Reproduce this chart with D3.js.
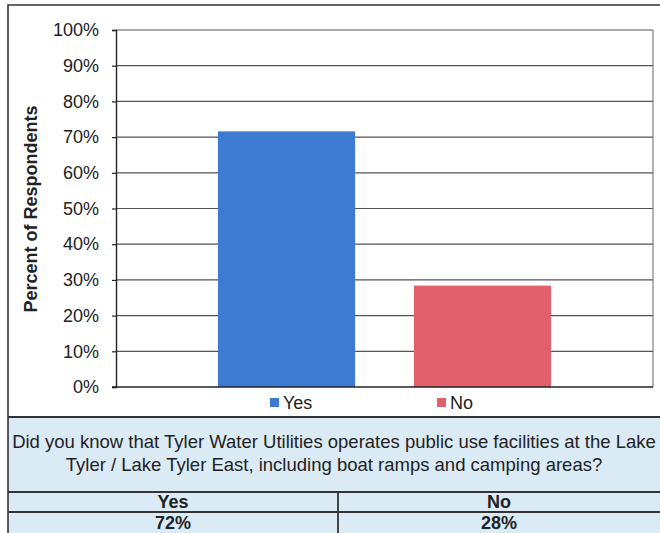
<!DOCTYPE html>
<html><head><meta charset="utf-8">
<script src="https://cdn.jsdelivr.net/npm/d3@7"></script>
<style>
body{margin:0;background:#fff;}
svg{display:block;font-family:"Liberation Sans",Arial,sans-serif;}
</style></head>
<body><svg id="c" width="660" height="533"></svg>
<script>
const categories = [""];
const series = ["Yes", "No"];
const values = [71.6, 28.4];
const tableLabels = ["72%", "28%"];
const yTicks = [0,10,20,30,40,50,60,70,80,90,100];
const question = ["Did you know that Tyler Water Utilities operates public use facilities at the Lake",
                  "Tyler / Lake Tyler East, including boat ramps and camping areas?"];
const colors = ["#3d7bd2", "#e2606b"];

const svg = d3.select("#c");
const L = 116, R = 653, T = 30, B = 387;

// table background
svg.append("rect").attr("x",8).attr("y",417).attr("width",660).attr("height",130).attr("fill","#dbebf6");

// outer border
svg.append("path").attr("d","M8,540 V5 H660").attr("fill","none").attr("stroke","#333").attr("stroke-width",1.6);

const y = d3.scaleLinear().domain([0,100]).range([B,T]);
const x0 = d3.scaleBand().domain(categories).range([L,R]).paddingInner(0).paddingOuter(0.306);
const x1 = d3.scaleBand().domain(series).range([0,x0.bandwidth()]).paddingInner(0.3).paddingOuter(0);

// gridlines
svg.append("g").selectAll("line").data(yTicks.filter(d=>d>0)).join("line")
  .attr("x1",L).attr("x2",R).attr("y1",d=>y(d)).attr("y2",d=>y(d))
  .attr("stroke","#555").attr("stroke-width",1.2);
// right border of plot
svg.append("line").attr("x1",R).attr("x2",R).attr("y1",T).attr("y2",B).attr("stroke","#666").attr("stroke-width",1);

// bars
const g = svg.append("g").attr("transform",`translate(${x0(categories[0])},0)`);
g.selectAll("rect").data(series).join("rect")
  .attr("x",d=>x1(d)).attr("width",x1.bandwidth())
  .attr("y",(d,i)=>y(values[i])).attr("height",(d,i)=>B-y(values[i]))
  .attr("fill",(d,i)=>colors[i]);

// y axis
const yAxis = d3.axisLeft(y).tickValues(yTicks).tickFormat(d=>d+"%").tickSize(4).tickPadding(13);
const ya = svg.append("g").attr("transform",`translate(${L},0)`).call(yAxis);
ya.select(".domain").attr("stroke","#222").attr("stroke-width",1.4);
ya.selectAll(".tick line").attr("stroke","#222").attr("stroke-width",1.2);
ya.selectAll(".tick text").attr("font-size",18).attr("fill","#222").attr("font-family","Liberation Sans, Arial, sans-serif");
// x axis baseline
svg.append("line").attr("x1",L-4).attr("x2",R).attr("y1",B).attr("y2",B).attr("stroke","#222").attr("stroke-width",1.4);

// y label
svg.append("text").attr("transform","translate(37,209) rotate(-90)").attr("text-anchor","middle")
  .attr("font-size",18).attr("font-weight","bold").attr("fill","#222").text("Percent of Respondents");

// legend
const legX = [270, 437];
series.forEach((s,i)=>{
  svg.append("rect").attr("x",legX[i]).attr("y",398).attr("width",9).attr("height",9).attr("fill",colors[i]);
  svg.append("text").attr("x",legX[i]+13).attr("y",409).attr("font-size",18).attr("fill","#222").text(s);
});

// table lines
svg.append("line").attr("x1",8).attr("x2",660).attr("y1",417).attr("y2",417).attr("stroke","#333").attr("stroke-width",2);
svg.append("line").attr("x1",8).attr("x2",660).attr("y1",492).attr("y2",492).attr("stroke","#333").attr("stroke-width",1.8);
svg.append("line").attr("x1",8).attr("x2",660).attr("y1",512).attr("y2",512).attr("stroke","#333").attr("stroke-width",1.8);
svg.append("line").attr("x1",338).attr("x2",338).attr("y1",492).attr("y2",533).attr("stroke","#333").attr("stroke-width",1.8);

// question
question.forEach((q,i)=>{
  svg.append("text").attr("x",334).attr("y",448+i*23).attr("text-anchor","middle")
    .attr("font-size",18.5).attr("fill","#222").text(q);
});
// table cells
const colCx = [173, 499];
series.forEach((s,i)=>{
  svg.append("text").attr("x",colCx[i]).attr("y",508).attr("text-anchor","middle").attr("font-size",18).attr("font-weight","bold").attr("fill","#222").text(s);
  svg.append("text").attr("x",colCx[i]).attr("y",529).attr("text-anchor","middle").attr("font-size",18).attr("font-weight","bold").attr("fill","#222").text(tableLabels[i]);
});
</script></body></html>
